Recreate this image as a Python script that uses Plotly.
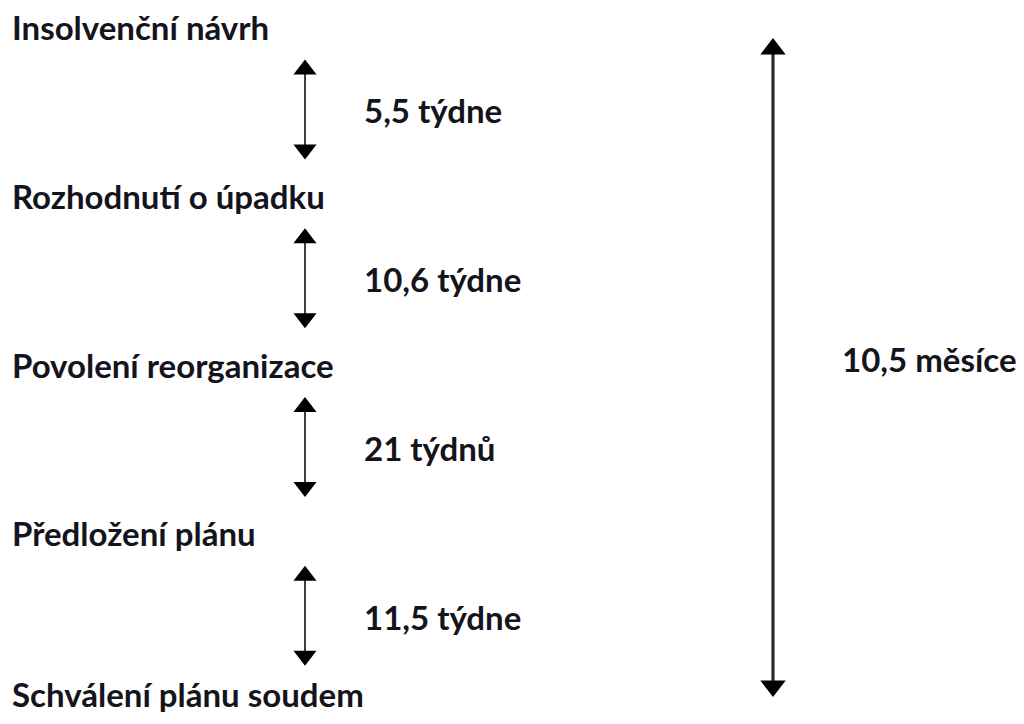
import plotly.graph_objects as go

# ---- data ----
stages = ["Insolvenční návrh", "Rozhodnutí o úpadku", "Povolení reorganizace",
          "Předložení plánu", "Schválení plánu soudem"]
durations = ["5,5 týdne", "10,6 týdne", "21 týdnů", "11,5 týdne"]
total_label = "10,5 měsíce"

# ---- layout constants (page pixels in a 1024x724 window) ----
# The page body has an 8px margin, so the figure is 1008x708 and its
# axes are ranged so that data coordinates equal page pixels.
PAD = 8
W, H = 1024, 724
stage_x = 12
stage_y0, stage_dy = 28, 168.75
arrow_x = 305
dur_x = 364
big_x = 773
big_top, big_bot = 38, 697
total_x = 842

FONT = dict(family="Lato, 'Open Sans', sans-serif", size=33, color="#14141c", weight="bold")

stage_y = [stage_y0 + i * stage_dy for i in range(len(stages))]
mids = [(stage_y[i] + stage_y[i + 1]) / 2 for i in range(len(durations))]

fig = go.Figure()

def double_arrow(x, tip_top, tip_bot, lw, msize):
    r = msize / 2
    fig.add_trace(go.Scatter(x=[x, x], y=[tip_top + r, tip_bot - r], mode="lines",
                             line=dict(color="#2a2a2a", width=lw), hoverinfo="skip", showlegend=False))
    fig.add_trace(go.Scatter(x=[x], y=[tip_top + r], mode="markers",
                             marker=dict(symbol="triangle-up", size=msize, color="#000"),
                             hoverinfo="skip", showlegend=False))
    fig.add_trace(go.Scatter(x=[x], y=[tip_bot - r], mode="markers",
                             marker=dict(symbol="triangle-down", size=msize, color="#000"),
                             hoverinfo="skip", showlegend=False))

for m in mids:
    double_arrow(arrow_x, m - 3 - 50, m - 3 + 50, 1.8, 20)
double_arrow(big_x, big_top, big_bot, 3.2, 22)

annotations = []
for i, (s, y) in enumerate(zip(stages, stage_y)):
    last = i == len(stages) - 1
    annotations.append(dict(x=stage_x - 2, y=(H - PAD - 0.5) if last else y - 1, text=s,
                            xanchor="left", yanchor="bottom" if last else "middle",
                            showarrow=False, font=FONT))
for d, y in zip(durations, mids):
    annotations.append(dict(x=dur_x - 2, y=y - 2, text=d, xanchor="left", yanchor="middle",
                            showarrow=False, font=FONT))
annotations.append(dict(x=total_x - 2, y=359, text=total_label,
                        xanchor="left", yanchor="middle", showarrow=False, font=FONT))

fig.update_layout(width=W - 2 * PAD, height=H - 2 * PAD, margin=dict(l=0, r=0, t=0, b=0),
                  paper_bgcolor="white", plot_bgcolor="white",
                  annotations=annotations,
                  xaxis=dict(range=[PAD, W - PAD], visible=False, fixedrange=True),
                  yaxis=dict(range=[H - PAD, PAD], visible=False, fixedrange=True))

fig.write_html("out.html", config={"displayModeBar": False})
